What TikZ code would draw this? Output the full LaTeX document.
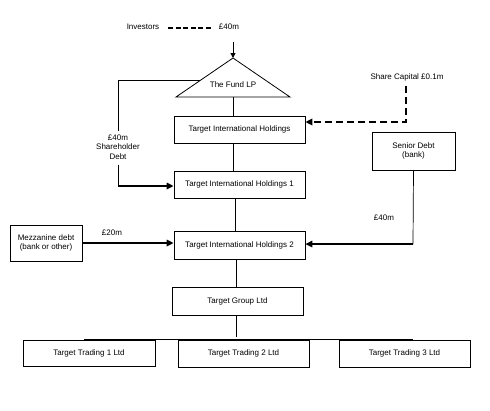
\documentclass[tikz,border=0pt]{standalone}
\usepackage{fontspec}
\setmainfont{Liberation Sans}
\usetikzlibrary{arrows.meta,calc}
\begin{document}
\begin{tikzpicture}[x=1pt,y=-1pt,
  font=\fontsize{8}{9.5}\selectfont,
  box/.style={draw, line width=0.8pt, minimum width=131pt, minimum height=27pt, inner sep=0pt},
  conn/.style={line width=0.7pt},
  heavy/.style={line width=1.6pt, -{Triangle[length=7pt,width=6.5pt]}},
  dashheavy/.style={line width=1.6pt, dash pattern=on 7pt off 4pt, -{Triangle[length=7pt,width=6.5pt]}},
  lbl/.style={inner sep=1pt}
]
\useasboundingbox (0,0) rectangle (490,410);

% investors
\node[lbl] (inv) at (143,27) {Investors};
\node[lbl] (inv40) at (229,27) {£40m};
\draw[line width=1.3pt, dash pattern=on 5pt off 2.5pt] (inv.east)+(8,1) -- ($(inv40.west)+(-6,1)$);
\coordinate (arrtop) at (233,42);

% fund triangle
\coordinate (apex) at (233,58);
\coordinate (fundbase) at (233,97);
\draw[line width=0.8pt] (apex) -- (290,97) -- (176,97) -- cycle;
\node[lbl] (fund) at (233,85) {The Fund LP};
\coordinate (fundleft) at (200,80);
\draw[line width=1pt, -{Triangle[length=5pt,width=5pt]}] (arrtop) -- (apex);

% boxes
\node[box] (tih) at (239.5,129.5) {\raisebox{-3pt}{Target International Holdings}};
\node[box] (tih1) at (239.5,184.5) {\raisebox{-3pt}{Target International Holdings 1}};
\node[box, minimum height=28pt] (tih2) at (239.5,245) {\raisebox{-3pt}{Target International Holdings 2}};
\node[box, minimum height=28pt] (tgl) at (237.5,301) {\raisebox{-3pt}{Target Group Ltd}};
\node[box, minimum width=132pt, minimum height=26pt] (tt1) at (89,353) {Target Trading 1 Ltd};
\node[box] (tt2) at (243.5,353.5) {\raisebox{-1pt}{Target Trading 2 Ltd}};
\node[box] (tt3) at (404.5,353.5) {Target Trading 3 Ltd};
\node[box, minimum width=72pt, minimum height=36pt, align=center] (mezz) at (46,243) {Mezzanine debt\\(bank or other)};
\node[box, minimum width=83pt, minimum height=38pt, align=center] (senior) at (413.5,151) {Senior Debt\\(bank)};

% main spine
\draw[conn] (fundbase) -- (fundbase |- tih.north);
\draw[conn] (tih.south -| fundbase) -- (tih1.north -| fundbase);
\draw[conn] ($(tih1.south)+(-4.5,0)$) -- ($(tih2.north)+(-4.5,0)$);
\draw[conn] ($(tih2.south)+(-3.5,0)$) -- ($(tgl.north)+(-1.5,0)$);

% shareholder debt
\node[lbl, align=center] (shd) at (118,147) {£40m\\Shareholder\\Debt};
\draw[conn] (fundleft) -- (118,80) -- ($(shd.north)+(0,-2)$);
\draw[conn] ($(shd.south)+(0,4)$) -- (118,186);
\draw[heavy] (118,186) -- (tih1.west |- 0,186);

% share capital
\node[lbl] (sc) at (407,77) {Share Capital £0.1m};
\draw[dashheavy] ($(sc.south)+(-1,4)$) -- (406,122) -- (tih.east |- 0,122);

% mezzanine
\node[lbl] (m20) at (112,233) {£20m};
\draw[heavy] (mezz.east) -- (tih2.west |- mezz.east);

% senior
\node[lbl] (s40) at (384,218) {£40m};
\draw[conn] (senior.south) -- (413,244);
\draw[line width=1.4pt, -{Triangle[length=7pt,width=6.5pt]}] (413,244) -- (tih2.east |- 0,244);

% tree
\coordinate (bus) at (0,328);
\draw[conn] ($(tgl.south)+(-1.5,0)$) -- ++(0,22);
\draw[conn] ($(tt1.north)+(-5,0)$) -- ($(tt1.north)+(-5,0)$ |- bus) -- ($(tt3.north)+(8.5,0)$ |- bus) -- ($(tt3.north)+(8.5,0)$);
\end{tikzpicture}
\end{document}
